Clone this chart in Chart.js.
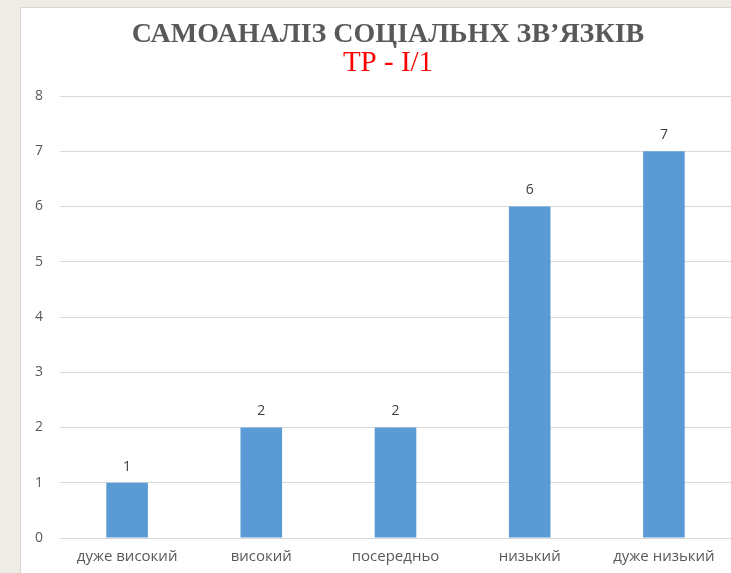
<!DOCTYPE html>
<html>
<head>
<meta charset="utf-8">
<script src="https://cdn.jsdelivr.net/npm/chart.js@4"></script>
<style>
  html, body { margin: 0; padding: 0; width: 731px; height: 573px; overflow: hidden; background: #EEECE5; }
  #panel { position: absolute; left: 20px; top: 7px; width: 760px; height: 600px; background: #fff; border-left: 1px solid #D6D6D6; border-top: 1px solid #D6D6D6; }
  #wrap { position: absolute; left: 21px; top: 8px; width: 734px; height: 565px; }
</style>
</head>
<body>
<div id="panel"></div>
<div id="wrap"><canvas id="c" width="734" height="565"></canvas></div>
<script>
const categories = ["дуже високий", "високий", "посередньо", "низький", "дуже низький"];
const values = [1, 2, 2, 6, 7];
const yTicks = [0, 1, 2, 3, 4, 5, 6, 7, 8];
const titleText = "САМОАНАЛІЗ СОЦІАЛЬНХ ЗВ’ЯЗКІВ";
const subtitleText = "ТР - І/1";

const labelFont = '"Open Sans", Lato, sans-serif';

const valueLabels = {
  id: 'valueLabels',
  afterDatasetsDraw(chart) {
    const ctx = chart.ctx;
    const meta = chart.getDatasetMeta(0);
    ctx.save();
    ctx.font = '14px ' + labelFont;
    ctx.fillStyle = '#404040';
    ctx.textAlign = 'center';
    ctx.textBaseline = 'middle';
    meta.data.forEach((bar, i) => {
      ctx.fillText(String(values[i]), bar.x, bar.y - 16);
    });
    ctx.restore();
  }
};

new Chart(document.getElementById('c'), {
  type: 'bar',
  data: {
    labels: categories,
    datasets: [{
      data: values,
      backgroundColor: '#5B9BD5',
      borderWidth: 0,
      barPercentage: 0.31,
      categoryPercentage: 1.0
    }]
  },
  options: {
    responsive: false,
    animation: false,
    devicePixelRatio: 1,
    layout: { padding: { left: 14, right: 14, top: 0, bottom: 8 } },
    plugins: {
      legend: { display: false },
      tooltip: { enabled: false },
      title: {
        display: true,
        text: titleText,
        color: '#595959',
        font: { family: '"Liberation Serif", "Times New Roman", serif', size: 28, weight: 'bold', lineHeight: 1 },
        padding: { top: 12.5, bottom: 0 }
      },
      subtitle: {
        display: true,
        text: subtitleText,
        color: '#FF0000',
        font: { family: '"Liberation Serif", "Times New Roman", serif', size: 29, weight: 'normal', lineHeight: 1 },
        padding: { top: 0, bottom: 18.5 }
      }
    },
    scales: {
      x: {
        grid: { display: false, drawTicks: false },
        border: { display: false },
        ticks: { color: '#595959', font: { family: labelFont, size: 15 }, padding: 10, maxRotation: 0 },
        afterFit(scale) { scale.paddingLeft = 0; scale.paddingRight = 24; scale.height = 27; }
      },
      y: {
        min: yTicks[0],
        max: yTicks[yTicks.length - 1],
        afterBuildTicks(scale) { scale.ticks = yTicks.map(v => ({ value: v })); },
        afterFit(scale) { scale.width = 25; },
        grid: { color: '#D9D9D9', lineWidth: 1, drawTicks: false },
        border: { display: false },
        ticks: { color: '#595959', font: { family: labelFont, size: 14 }, padding: 17 }
      }
    }
  },
  plugins: [valueLabels]
});
</script>
</body>
</html>
